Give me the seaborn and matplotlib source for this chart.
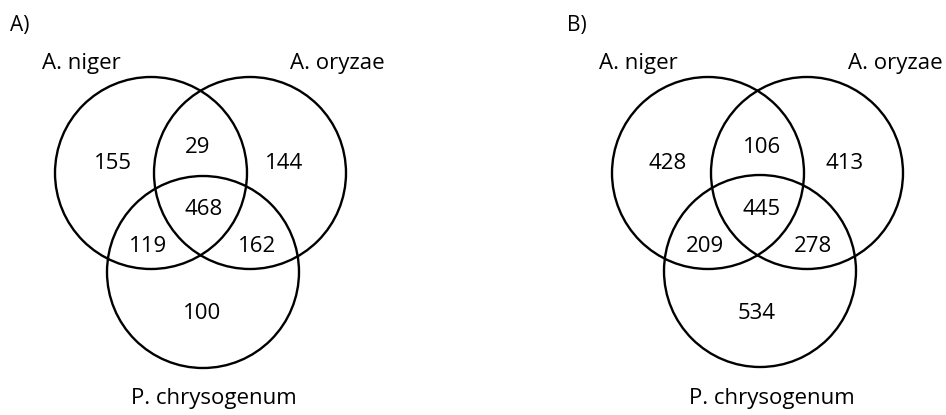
import matplotlib
matplotlib.use("Agg")
import matplotlib.pyplot as plt
from matplotlib.patches import Circle
import seaborn as sns

# set names and region counts
panels = ["A)", "B)"]
set_names = ["A. niger", "A. oryzae", "P. chrysogenum"]
# order: niger only, niger&oryzae, oryzae only, all three, niger&chryso, oryzae&chryso, chryso only
counts_a = [155, 29, 144, 468, 119, 162, 100]
counts_b = [428, 106, 413, 445, 209, 278, 534]

sns.set_theme(style="white")
plt.rcParams["font.family"] = ["Open Sans", "DejaVu Sans"]

fig = plt.figure(figsize=(9.46, 4.15), dpi=100)
ax = fig.add_axes([0, 0, 1, 1])
ax.set_xlim(0, 946)
ax.set_ylim(415, 0)
ax.set_aspect("equal")
ax.axis("off")

# layout in pixel coordinates for each panel
layouts = [
    dict(circles=[(151, 173), (250, 173), (203, 272)],
         title=(10, 25),
         names=[(81, 63), (337, 63), (214, 398)],
         spots=[(113, 163), (198, 147), (284, 163), (204, 209),
                (148, 246), (257, 246), (202, 313)]),
    dict(circles=[(708, 173), (807, 173), (760, 271)],
         title=(567, 25),
         names=[(638, 63), (895, 63), (772, 398)],
         spots=[(668, 163), (762, 147), (845, 163), (762, 209),
                (705, 246), (813, 246), (757, 313)]),
]
radius = 96

for label, counts, lay in zip(panels, [counts_a, counts_b], layouts):
    for cx, cy in lay["circles"]:
        ax.add_patch(Circle((cx, cy), radius, fill=False, edgecolor="black", lw=1.7))
    ax.text(*lay["title"], label, fontsize=15, ha="left", va="center", color="black")
    for name, (nx, ny) in zip(set_names, lay["names"]):
        ax.text(nx, ny, name, fontsize=16, ha="center", va="center", color="black")
    for n, (sx, sy) in zip(counts, lay["spots"]):
        ax.text(sx, sy, str(n), fontsize=16, ha="center", va="center", color="black")

sns.despine(fig=fig, left=True, bottom=True)
fig.savefig("out.png", dpi=100, facecolor="white")
